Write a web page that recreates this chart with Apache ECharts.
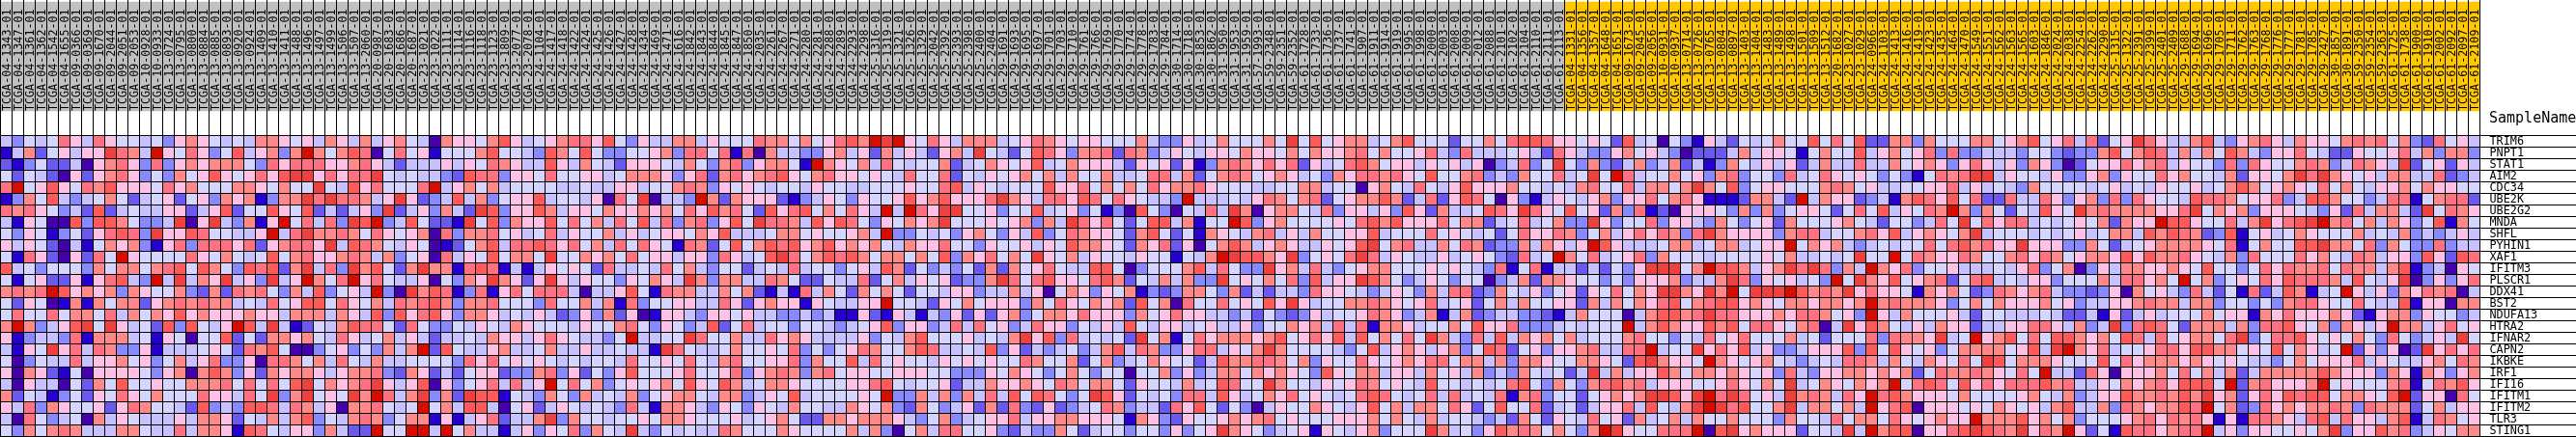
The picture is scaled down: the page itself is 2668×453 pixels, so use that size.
<!DOCTYPE html>
<html><head><meta charset="utf-8">
<style>html,body{margin:0;padding:0;background:#fff}#c{width:2668px;height:453px}</style>
<script src="https://cdn.jsdelivr.net/npm/echarts@6/dist/echarts.min.js"></script>
</head><body><div id="c"></div>
<script>
// level names 10 and 11 are written as a and b so that the tables stay aligned
const a = 10, b = 11;
const palette = ["#4500AD","#2700D1","#6B58EF","#8888FF","#C7C1FF","#D5D5FF","#FFC0E5","#FF8989","#FF7080","#FF5A5A","#EF4040","#D60C00"];
const genes = ["TRIM6","PNPT1","STAT1","AIM2","CDC34","UBE2K","UBE2G2","MNDA","SHFL","PYHIN1","XAF1","IFITM3","PLSCR1","DDX41","BST2","NDUFA13","HTRA2","IFNAR2","CAPN2","IKBKE","IRF1","IFI16","IFITM1","IFITM2","TLR3","STING1"];
const sampleIds = ["04-1343","04-1347","04-1361","04-1362","04-1542","04-1655","09-0366","09-0369","09-1670","09-2044","09-2051","09-2053","10-0928","10-0933","13-0724","13-0795","13-0800","13-0884","13-0885","13-0893","13-0920","13-0924","13-1409","13-1410","13-1411","13-1488","13-1496",
"13-1497","13-1499","13-1506","13-1507","13-2060","20-0987","20-1683","20-1686","20-1687","23-1021","23-1022","23-1111","23-1114","23-1116","23-1118","23-1123","23-1809","23-2077","23-2078","24-1104","24-1417","24-1418","24-1422","24-1424","24-1425","24-1426","24-1427",
"24-1428","24-1434","24-1469","24-1471","24-1616","24-1842","24-1843","24-1844","24-1845","24-1847","24-1850","24-2035","24-2261","24-2267","24-2271","24-2280","24-2281","24-2288","24-2289","24-2293","24-2298","25-1316","25-1319","25-1321","25-1326","25-1329","25-2042",
"25-2392","25-2393","25-2398","25-2400","25-2404","29-1691","29-1693","29-1695","29-1697","29-1701","29-1703","29-1710","29-1761","29-1766","29-1769","29-1770","29-1774","29-1778","29-1783","29-1784","30-1714","30-1718","30-1853","30-1862","31-1950","31-1953","31-1959",
"57-1993","59-2348","59-2351","59-2352","61-1728","61-1733","61-1736","61-1737","61-1741","61-1907","61-1911","61-1914","61-1919","61-1995","61-1998","61-2000","61-2003","61-2008","61-2009","61-2012","61-2088","61-2101","61-2102","61-2104","61-2110","61-2111","61-2113",
"04-1331","04-1356","04-1357","04-1648","04-1651","09-1673","09-2045","09-2056","10-0931","10-0937","13-0714","13-0726","13-0765","13-0804","13-0897","13-1403","13-1404","13-1483","13-1489","13-1498","13-1501","13-1509","13-1512","20-1682","23-1027","23-1029","24-0966",
"24-1103","24-1413","24-1416","24-1419","24-1423","24-1435","24-1464","24-1470","24-1549","24-1551","24-1562","24-1563","24-1565","24-1603","24-1846","24-2024","24-2038","24-2254","24-2262","24-2290","25-1315","25-1322","25-2391","25-2399","25-2401","25-2409","29-1688",
"29-1694","29-1696","29-1705","29-1711","29-1762","29-1763","29-1768","29-1776","29-1777","29-1781","29-1785","29-2427","30-1857","30-1891","59-2350","59-2354","59-2363","61-1725","61-1738","61-1900","61-1910","61-2002","61-2092","61-2097","61-2109"];
const greySampleCount = 135;
const block0 = [
[4,3,5,4,5,8,6,4,8,6,5,5,4,5,3,6,7,6,5,4,5,4,7,7,6,5,6],
[1,4,7,2,5,6,4,6,6,a,8,7,4,b,6,5,8,6,3,5,9,4,6,7,3,7,b],
[2,1,3,5,2,2,4,0,6,7,8,6,3,8,3,6,7,6,7,7,7,5,3,8,6,8,8],
[5,2,5,4,2,0,6,2,6,7,8,6,3,5,3,7,5,6,9,6,5,6,8,6,9,a,a],
[8,b,5,6,9,6,5,8,7,9,6,6,6,5,8,6,7,5,5,5,7,7,6,5,7,5,5],
[1,3,7,5,9,4,3,4,5,7,5,2,4,5,6,2,5,6,3,7,6,7,1,3,7,7,a],
[8,7,8,6,5,3,4,2,9,2,4,5,4,4,6,6,2,4,6,9,2,5,5,9,6,5,9],
[4,1,6,5,0,0,9,3,9,9,7,5,3,3,4,a,0,6,a,4,3,7,1,6,b,5,8],
[5,3,6,5,1,3,5,2,6,8,9,8,3,a,6,6,9,8,5,5,4,4,6,b,4,8,a],
[6,4,6,5,2,0,4,1,5,7,6,7,3,1,6,8,3,8,8,8,6,8,2,6,7,8,8],
[5,1,8,6,2,0,6,2,8,5,b,6,5,5,5,5,8,6,5,7,5,4,5,9,5,7,8],
[9,4,5,3,5,5,5,3,7,5,7,7,5,7,8,9,5,9,7,5,3,9,8,9,2,7,a],
[5,1,5,6,2,2,6,1,6,8,9,4,3,b,4,a,4,7,6,a,4,6,3,a,4,6,b],
[7,8,7,8,b,9,6,7,6,7,3,7,6,5,5,7,3,2,7,2,8,7,8,5,3,7,4],
[5,2,6,5,0,1,7,1,7,5,7,7,2,6,7,8,7,8,7,7,4,5,4,8,5,6,9],
[5,8,5,5,8,5,7,7,5,8,4,7,5,7,6,9,6,7,6,6,6,7,6,6,4,7,7],
[7,b,7,3,4,6,9,a,5,a,6,4,5,2,9,3,9,5,4,6,b,9,4,a,4,1,2],
[6,1,3,4,4,3,8,1,7,7,7,4,5,1,6,5,0,5,5,9,2,5,2,7,7,6,7],
[4,1,6,5,a,6,8,4,8,7,3,3,6,1,4,4,4,5,6,5,2,8,7,9,5,0,0],
[5,0,3,5,4,4,8,4,6,6,7,5,6,3,5,7,4,6,8,3,3,6,0,8,8,7,5],
[6,0,7,6,2,1,5,0,6,6,6,6,5,3,6,7,0,7,9,7,3,6,2,7,6,7,7],
[4,0,6,4,4,0,5,2,7,5,9,5,5,6,5,5,7,7,7,8,5,8,5,8,5,9,a],
[7,2,5,4,1,3,5,2,6,5,8,6,5,7,5,5,5,8,6,6,4,8,5,a,3,7,a],
[6,4,8,3,7,6,5,5,6,2,6,8,7,5,5,4,2,9,3,4,3,9,9,8,4,8,7],
[4,0,8,5,3,4,5,0,7,4,6,5,4,4,4,6,4,7,7,6,2,5,4,7,4,7,9],
[5,3,7,5,7,8,7,4,4,4,7,7,5,4,4,8,4,7,7,6,1,9,8,5,4,6,6]];
const block1 = [
[4,7,6,4,7,4,6,7,5,4,0,7,6,6,5,7,9,6,4,5,6,7,8,8,6,9,5],
[7,5,7,9,8,0,5,8,5,6,1,5,5,5,7,9,5,5,4,3,9,7,5,9,5,3,3],
[8,6,6,7,8,6,4,2,4,4,4,6,4,6,5,8,7,6,4,4,9,6,4,7,5,4,2],
[6,8,6,8,8,a,5,4,5,4,4,3,2,9,8,8,3,6,6,5,8,5,5,6,6,4,5],
[a,5,4,9,6,8,5,5,5,8,b,4,6,7,5,7,4,5,5,5,5,4,4,5,4,4,6],
[8,a,8,8,7,4,6,a,6,2,3,4,9,4,7,3,5,6,6,9,4,5,5,4,6,0,8],
[2,4,2,4,6,3,a,2,4,6,3,7,4,2,a,9,3,6,6,9,7,4,6,6,5,7,6],
[4,8,3,a,9,b,3,4,9,5,2,2,1,a,5,9,3,7,6,6,9,5,8,5,7,4,8],
[7,7,8,7,5,8,6,5,6,7,0,8,3,7,7,8,5,6,4,5,8,4,6,5,5,7,4],
[6,a,4,9,8,7,5,4,6,5,0,1,2,5,7,9,4,8,8,9,8,6,8,5,7,4,8],
[6,6,7,8,7,4,7,3,5,6,0,8,4,6,5,9,5,7,7,5,a,5,5,7,6,7,5],
[4,8,3,a,7,9,5,2,7,a,7,7,1,8,9,8,1,4,1,4,6,5,6,5,2,8,4],
[7,5,8,b,6,8,5,4,4,6,0,5,3,7,6,a,7,6,2,6,a,6,4,6,5,5,3],
[9,3,5,6,4,b,3,0,a,7,9,8,1,3,8,1,6,8,5,8,8,8,4,0,4,4,6],
[9,5,8,6,5,7,4,8,7,8,9,7,3,7,7,8,5,5,5,3,8,5,5,7,4,7,1],
[7,4,7,6,4,9,3,9,6,8,9,6,3,7,7,6,4,5,4,6,4,2,3,6,3,7,2],
[5,4,7,9,8,8,5,2,8,5,3,3,5,4,6,5,4,7,6,5,5,5,4,6,5,5,7],
[5,4,8,6,4,5,7,4,6,4,2,4,4,5,4,7,6,6,4,6,8,6,5,4,4,3,5],
[3,5,6,3,5,3,7,4,7,b,2,9,5,4,4,6,7,4,4,5,7,4,4,6,4,4,5],
[7,4,8,5,4,7,4,4,5,5,5,5,3,8,6,8,5,6,5,6,5,4,5,4,5,5,4],
[6,4,6,7,7,8,3,2,7,6,2,4,2,5,6,6,2,3,3,7,8,3,6,2,5,3,6],
[5,7,6,7,8,a,6,4,6,9,0,6,3,5,6,8,4,8,4,6,b,5,8,5,7,3,5],
[5,6,5,a,7,b,8,4,7,a,3,7,2,a,9,9,1,5,4,3,7,5,3,7,4,5,4],
[4,6,0,7,7,8,5,4,5,b,5,7,4,9,9,4,0,5,6,2,4,6,5,4,5,4,3],
[3,5,4,7,8,7,3,5,7,7,1,6,1,4,6,8,2,4,4,7,a,3,7,5,5,4,5],
[3,7,4,2,2,b,5,5,b,b,4,b,5,7,4,4,1,4,6,3,6,5,8,3,7,5,4]];
const block2 = [
[3,6,4,4,7,7,4,6,5,5,5,8,7,7,5,7,5,6,8,9,7,b,a,b,6,5,8],
[5,5,6,7,3,8,8,5,8,1,8,0,7,4,4,3,3,6,7,4,6,2,7,4,6,4,2],
[6,6,6,5,4,7,5,3,7,8,3,6,7,7,5,1,b,7,6,5,7,4,8,5,4,5,5],
[7,7,7,6,3,6,8,2,7,8,6,7,8,9,6,5,7,8,6,6,5,6,5,4,8,5,5],
[6,4,5,5,7,8,7,3,6,5,6,5,4,5,5,4,6,5,5,4,4,5,5,5,6,5,5],
[5,a,0,4,4,3,b,7,2,7,6,6,6,2,1,3,4,6,5,3,6,5,5,6,9,6,7],
[6,7,6,7,5,8,6,9,7,8,5,2,9,6,8,9,5,7,5,8,6,4,b,4,b,8,6],
[5,9,4,8,3,7,8,3,6,9,5,a,8,8,7,4,9,6,9,8,5,3,6,5,7,6,7],
[6,4,5,6,6,5,7,6,9,4,4,4,5,7,7,5,6,5,5,6,7,4,b,3,3,5,4],
[5,8,6,5,1,8,7,2,5,9,5,7,9,8,9,6,7,9,6,7,6,7,5,4,7,6,6],
[8,5,6,6,4,6,6,3,8,6,4,5,9,a,8,5,7,9,8,9,7,5,7,7,5,7,5],
[4,5,4,8,5,7,4,3,5,5,2,4,5,4,8,4,5,5,3,5,6,4,9,7,2,5,3],
[6,5,7,6,4,a,7,3,7,7,4,4,8,7,5,2,2,5,4,4,8,2,5,7,4,6,5],
[9,5,1,8,7,7,4,4,7,5,7,2,1,4,1,8,4,7,5,2,7,5,7,5,2,5,5],
[8,3,5,5,6,6,4,4,8,6,2,6,7,6,6,1,6,5,4,4,6,6,b,5,5,4,2],
[6,0,1,6,6,4,3,6,6,5,6,4,4,3,3,4,3,4,1,1,6,2,1,6,4,1,4],
[8,5,3,6,5,3,4,9,2,5,8,4,5,5,3,5,5,4,3,4,5,6,9,3,6,6,3],
[b,4,4,5,5,a,8,5,5,7,4,4,8,6,7,6,4,4,4,4,6,3,5,4,7,9,5],
[4,4,1,a,8,5,4,4,5,7,5,5,6,5,8,3,5,3,5,6,8,7,5,5,7,9,8],
[8,5,5,6,5,8,5,4,7,8,5,5,6,6,8,3,7,5,5,9,4,8,5,6,5,5,4],
[9,5,5,5,6,8,5,5,6,8,3,6,7,8,7,3,7,8,5,6,6,5,5,6,6,6,5],
[6,5,6,7,5,9,6,5,9,7,4,5,7,7,6,5,5,5,5,6,6,8,9,5,4,5,5],
[7,3,5,6,7,7,5,4,7,7,3,4,6,5,9,4,5,5,5,5,6,5,b,3,3,7,4],
[8,4,1,7,7,6,4,3,6,5,3,6,5,4,7,5,5,4,4,7,6,5,7,3,2,7,5],
[5,6,5,7,7,6,5,5,5,6,4,5,6,7,5,2,2,7,7,6,7,7,7,6,4,3,5],
[a,4,3,5,4,5,4,4,8,7,5,5,5,7,6,5,5,5,5,7,4,7,3,0,5,7,4]];
const block3 = [
[6,4,7,7,7,4,5,6,8,7,6,5,6,6,5,5,5,7,4,3,3,6,4,5,7,5,5],
[6,7,4,a,5,4,2,5,9,8,6,3,7,7,8,2,8,7,3,4,6,5,4,6,6,5,7],
[7,2,4,5,7,6,5,6,9,4,5,7,6,6,6,4,2,6,5,6,2,6,1,3,7,8,7],
[8,2,5,4,6,5,6,7,5,7,4,7,5,5,7,4,4,5,8,8,4,7,2,5,7,8,7],
[8,9,4,6,5,4,5,5,5,9,6,6,8,5,7,5,7,5,8,6,7,7,8,6,5,5,5],
[9,6,6,6,8,a,7,6,4,8,8,6,9,8,5,8,6,5,4,4,3,b,4,4,4,5,4],
[a,a,5,5,6,3,5,5,9,4,5,6,3,5,1,3,0,9,5,3,0,5,4,8,4,a,7],
[a,5,5,5,6,5,6,7,3,7,4,a,8,6,8,5,2,5,9,9,4,7,1,5,5,b,9],
[5,3,6,7,5,3,6,4,9,3,5,8,7,6,6,5,2,7,9,5,2,5,1,7,6,5,4],
[8,5,5,3,6,5,5,6,4,6,5,9,7,7,6,5,2,7,6,8,2,6,0,5,7,9,7],
[9,3,7,6,8,5,7,5,a,6,5,7,4,6,5,5,4,6,5,5,1,5,4,7,b,a,9],
[4,3,5,2,7,2,7,5,6,8,5,4,4,9,9,5,0,3,5,5,5,7,9,4,8,5,3],
[6,2,3,3,7,a,8,5,8,9,6,6,5,8,9,7,2,5,4,7,4,7,3,3,a,5,6],
[4,6,6,3,4,4,7,4,6,0,5,7,6,3,6,5,7,1,3,2,3,7,7,5,3,7,2],
[6,5,7,5,6,6,6,3,7,5,8,6,5,7,6,7,2,9,5,7,0,8,5,5,8,5,6],
[3,6,2,6,2,6,7,3,5,7,7,6,8,6,6,6,3,7,5,6,8,6,6,4,4,3,4],
[4,8,4,8,5,6,3,4,8,6,6,3,5,4,6,4,9,5,4,6,6,4,5,6,4,4,6],
[5,5,6,4,5,4,7,a,6,9,3,8,4,5,4,5,2,a,5,7,1,5,8,6,7,7,7],
[4,4,5,4,9,3,6,2,4,3,4,5,3,4,7,9,4,8,7,3,3,6,8,8,4,6,5],
[6,5,6,5,6,5,5,8,7,5,5,7,2,5,7,3,4,5,7,6,5,5,2,4,9,7,7],
[5,3,3,3,6,5,7,6,5,3,5,7,5,3,5,5,0,5,5,7,3,6,3,4,7,7,5],
[6,2,4,4,7,6,6,7,6,5,8,7,5,7,7,5,2,6,5,5,4,7,4,5,9,8,5],
[7,3,7,4,8,4,9,5,9,8,5,3,5,a,9,6,2,5,4,5,3,8,8,4,9,6,4],
[3,4,6,2,7,2,8,3,2,6,2,3,4,5,8,7,3,4,4,2,8,6,9,5,2,5,3],
[7,3,4,5,6,6,8,4,6,6,7,7,6,6,6,5,1,7,6,3,2,6,5,5,6,7,6],
[8,8,5,5,6,3,2,4,3,3,7,5,2,4,5,5,3,5,5,3,6,3,5,6,a,7,6]];
const block4 = [
[5,7,5,a,5,9,5,6,7,7,4,5,7,9,5,5,5,2,5,5,7,5,8,9,9,8,6],
[6,6,5,7,5,7,6,6,7,8,5,7,5,5,6,8,4,3,8,4,4,4,5,6,4,2,8],
[6,8,6,8,2,6,4,5,8,9,7,5,6,6,4,6,5,6,4,6,0,3,4,8,3,5,a],
[5,6,7,6,4,5,3,7,6,8,8,7,8,6,5,9,5,5,7,8,3,4,3,7,5,5,8],
[4,4,5,5,7,7,4,5,5,0,6,7,5,4,8,5,4,6,9,6,6,6,7,5,5,4,5],
[6,8,7,5,7,8,2,5,6,7,7,9,7,2,4,8,2,6,9,8,5,0,6,3,1,4,6],
[0,6,7,7,5,4,8,3,6,6,4,6,3,9,6,2,7,4,4,5,9,8,6,a,8,6,5],
[3,6,7,5,5,5,5,6,5,8,9,7,9,6,6,6,8,5,7,7,2,4,5,8,4,5,7],
[7,8,4,6,4,7,5,5,6,6,9,4,5,5,5,8,5,6,5,4,5,2,5,8,6,6,8],
[4,6,7,6,4,4,6,5,6,9,a,5,7,8,4,4,7,5,8,7,2,3,3,7,4,7,6],
[9,7,6,a,3,5,6,5,8,a,8,4,6,5,4,4,6,4,5,6,5,3,2,8,4,5,b],
[3,a,6,7,4,8,4,3,5,6,7,7,5,5,5,6,5,6,5,4,3,8,1,5,8,1,4],
[5,7,5,8,3,9,4,6,6,a,9,7,5,3,4,6,5,3,5,5,0,3,4,7,2,7,7],
[4,2,4,4,3,8,6,6,5,4,3,4,6,5,3,7,4,8,8,2,3,7,5,4,6,3,5],
[5,9,6,a,6,4,5,5,7,7,8,7,6,5,6,8,4,5,6,2,5,7,4,7,5,5,6],
[2,5,3,2,3,6,4,5,5,6,8,7,6,3,4,7,1,4,7,2,3,4,4,3,3,2,1],
[3,5,5,7,6,7,4,8,4,8,1,7,7,6,4,5,5,7,5,9,6,6,8,3,3,3,4],
[6,7,9,5,6,8,6,9,4,9,5,7,5,8,5,a,7,4,3,8,4,9,4,7,6,7,5],
[7,a,7,5,5,5,5,4,3,5,9,4,6,7,6,4,6,7,3,5,9,8,2,5,6,3,6],
[8,8,7,5,7,3,6,5,5,8,6,5,6,7,6,8,8,5,7,7,4,7,3,7,7,6,5],
[7,6,7,6,5,3,9,6,5,7,7,4,6,6,4,7,5,6,4,7,3,4,3,7,5,4,5],
[5,a,7,5,5,4,6,5,6,8,7,5,6,5,4,9,5,5,4,5,4,5,8,9,5,3,7],
[5,7,6,8,5,6,5,4,5,8,9,8,5,4,5,8,4,8,4,5,4,8,1,7,8,3,5],
[0,4,6,5,5,7,6,5,4,6,9,5,7,4,7,7,5,8,6,2,5,9,5,5,8,2,4],
[7,8,5,6,5,5,5,6,6,6,7,5,7,5,4,7,4,5,5,4,3,4,2,7,5,2,6],
[5,3,4,5,6,1,6,5,4,6,7,3,5,5,5,a,7,4,5,3,6,9,7,8,7,5,7]];
const block5 = [
[6,5,6,5,2,9,4,5,0,5,3,1,6,4,2,5,4,5,7,5,5,9,5,8,5,9,2],
[6,4,3,3,6,7,5,6,4,3,0,2,2,2,4,7,4,6,6,5,1,5,7,5,5,9,4],
[5,3,7,3,2,4,7,3,4,7,2,4,1,3,7,5,4,6,4,6,2,4,7,4,4,8,4],
[4,5,a,5,b,8,4,5,5,7,5,6,3,7,8,3,5,5,3,8,4,5,8,6,5,6,5],
[4,7,8,5,5,8,4,7,7,5,7,a,7,5,9,3,5,6,6,5,5,5,7,8,7,5,6],
[5,4,6,7,3,6,6,8,5,7,8,6,1,1,1,2,7,7,4,2,b,4,7,6,6,2,3],
[9,5,6,2,7,3,8,1,2,0,6,6,6,5,3,7,3,7,3,5,6,6,5,2,5,8,5],
[3,3,a,6,3,5,5,8,3,6,6,4,3,7,5,3,5,6,2,7,5,5,5,6,7,5,4],
[7,3,5,7,4,6,8,6,8,7,3,8,a,7,6,6,6,6,3,7,8,8,4,5,5,7,8],
[4,6,b,9,6,4,4,4,5,7,7,4,5,7,7,4,5,6,6,b,5,7,6,7,4,3,4],
[7,5,8,4,5,6,8,3,7,5,5,5,4,5,5,5,5,6,5,7,4,4,5,4,5,a,5],
[4,2,4,2,5,3,6,a,a,a,5,7,b,9,9,7,4,6,7,a,8,a,8,3,7,4,b],
[6,5,5,3,5,3,6,6,6,7,3,4,4,7,a,8,3,6,5,6,4,5,3,b,5,a,7],
[6,2,6,5,8,5,7,6,a,a,7,6,a,7,b,5,a,a,a,b,9,7,8,7,a,6,8],
[6,2,7,4,7,5,7,6,8,9,5,7,8,9,9,6,7,6,5,7,7,6,7,7,6,7,b],
[4,7,5,5,5,0,4,7,9,9,7,8,a,8,8,6,6,6,7,6,8,8,7,5,6,3,b],
[5,4,5,5,5,b,4,7,9,7,6,6,9,7,9,5,8,8,6,5,7,8,0,4,a,6,9],
[7,4,5,5,5,7,8,5,5,3,5,4,8,5,6,8,5,5,5,7,4,5,2,5,5,5,8],
[6,7,8,4,4,8,8,b,4,5,5,a,6,8,6,9,4,6,3,3,4,6,6,6,9,3,9],
[5,7,7,6,5,2,9,a,7,6,6,5,b,7,6,5,6,7,5,4,3,4,5,4,8,8,7],
[2,4,a,4,7,4,6,6,9,7,5,7,7,6,7,6,5,6,3,8,4,3,6,6,7,7,6],
[5,3,7,8,9,7,8,4,6,6,6,5,5,6,8,6,5,7,5,a,4,5,7,6,5,7,6],
[5,2,5,6,7,6,7,a,a,9,6,a,b,8,a,8,5,6,4,a,7,8,7,4,8,6,b],
[5,2,4,6,6,8,4,9,5,4,7,a,b,a,8,9,5,5,7,a,4,7,7,5,7,4,b],
[5,4,8,5,6,2,7,4,5,7,4,7,5,5,7,5,5,5,3,7,5,5,4,8,5,7,7],
[5,3,7,b,a,6,5,5,8,8,8,b,0,9,a,6,7,6,6,6,2,5,5,4,a,4,b]];
const block6 = [
[2,7,7,3,7,5,5,5,7,7,5,6,7,9,5,6,8,4,8,2,5,6,a,8,6,4,4],
[6,7,5,6,8,3,8,3,3,4,4,4,3,5,5,3,2,3,3,7,9,5,7,9,8,4,7],
[4,7,5,6,7,6,3,6,8,6,4,6,3,7,6,3,0,2,5,6,6,8,6,7,8,4,6],
[3,5,3,1,5,8,7,8,a,a,4,6,5,5,4,6,3,3,6,7,3,6,5,5,8,6,7],
[4,4,5,5,6,6,8,4,6,4,5,4,3,7,5,5,5,5,4,5,6,4,5,4,6,5,5],
[4,1,7,9,8,6,9,5,8,2,2,8,4,4,8,6,3,6,7,3,8,3,8,6,5,5,4],
[9,4,6,5,8,7,b,7,3,7,5,2,5,4,9,6,5,a,7,8,7,7,7,7,6,6,8],
[2,5,5,3,4,8,5,a,5,8,6,8,8,4,5,4,5,6,5,7,2,7,6,6,b,9,9],
[6,9,4,6,7,6,5,7,a,4,5,5,5,4,5,4,5,6,4,5,7,7,4,9,7,9,8],
[5,4,5,5,8,5,8,9,7,8,6,6,a,6,6,6,3,3,7,5,2,4,5,6,7,7,7],
[5,b,5,8,7,6,6,8,7,5,5,7,8,6,8,7,5,6,7,7,6,9,6,9,7,7,8],
[7,6,8,3,5,5,6,4,4,4,5,4,6,8,3,5,7,0,3,6,4,7,7,6,6,7,6],
[6,9,5,6,7,8,2,5,8,9,4,5,4,6,6,3,5,5,5,7,4,8,8,6,7,5,b],
[6,6,5,1,7,6,7,5,2,3,8,7,6,7,8,4,3,3,2,3,6,0,7,5,6,4,3],
[7,8,7,7,7,6,3,5,7,5,7,6,6,6,7,5,6,3,4,4,6,6,7,8,7,7,4],
[6,4,7,5,5,5,6,4,2,5,5,4,4,4,5,4,2,2,4,1,6,2,4,6,4,5,5],
[7,5,4,6,4,7,6,6,2,4,4,6,6,8,8,6,4,7,3,4,a,3,8,9,8,5,2],
[3,8,7,7,6,a,4,5,b,6,7,9,5,8,5,9,9,7,6,7,5,9,8,4,8,5,6],
[5,9,6,5,6,3,5,7,7,7,7,5,6,9,4,a,b,7,6,8,4,5,5,6,8,8,6],
[4,7,5,4,7,6,5,8,5,a,9,5,7,7,7,6,5,5,5,9,5,8,6,7,7,7,6],
[7,6,7,2,5,8,7,7,8,7,6,5,8,5,b,4,4,2,8,6,0,6,6,6,7,5,8],
[7,b,5,8,9,8,5,9,6,8,6,8,8,8,9,7,8,4,4,6,5,7,6,7,8,6,9],
[8,9,7,6,6,6,5,7,5,5,5,5,6,7,5,4,7,3,4,6,6,9,7,7,8,7,9],
[6,8,9,0,6,6,6,5,6,5,7,6,5,6,4,7,9,4,4,7,3,8,7,6,7,7,9],
[5,8,6,5,6,7,6,6,b,7,7,7,9,6,7,5,7,3,5,5,5,6,7,8,6,8,7],
[7,9,9,0,6,6,8,9,a,9,8,7,a,6,8,7,b,6,2,5,1,9,8,8,6,7,8]];
const block7 = [
[7,9,4,3,6,7,8,6,4,7,6,6,5,7,8,7,8,5,7,3,2,8,5,6,4],
[4,7,5,9,7,4,3,6,6,8,5,4,2,2,6,5,5,6,8,4,7,3,7,7,3],
[5,5,3,8,3,8,6,5,5,7,8,7,3,4,8,7,6,4,a,2,5,6,2,6,4],
[5,5,4,7,2,6,6,5,7,a,8,a,7,6,5,6,4,7,7,4,4,8,2,3,4],
[6,4,5,7,9,7,5,6,7,6,5,8,5,7,5,4,6,6,7,5,7,6,6,5,5],
[9,8,8,7,5,6,6,8,3,4,9,9,7,5,5,3,4,8,8,1,5,7,8,8,2],
[a,5,7,6,7,3,6,6,6,5,4,3,6,2,8,4,7,7,4,2,a,5,8,7,6],
[6,5,5,8,4,7,a,6,8,9,a,b,7,8,5,7,4,7,6,3,5,9,1,7,5],
[7,2,3,9,1,5,6,4,5,7,6,5,5,5,7,4,5,4,7,3,4,3,4,6,4],
[7,6,5,8,1,5,7,5,5,9,9,a,7,7,5,8,3,7,5,3,3,8,3,4,4],
[6,5,4,7,3,8,5,5,5,8,6,7,5,4,8,7,4,6,6,3,9,6,2,9,8],
[5,9,5,5,3,5,8,6,8,7,7,8,5,8,7,7,4,7,9,1,3,4,0,6,5],
[5,7,3,5,6,5,8,6,9,8,8,8,7,4,9,5,4,6,a,0,3,6,3,6,8],
[8,4,2,5,1,8,2,4,9,7,1,4,5,b,6,4,6,3,7,6,8,7,8,0,4],
[7,7,3,5,5,3,5,3,7,8,8,6,5,5,8,5,4,4,9,1,6,6,0,7,7],
[5,7,5,6,6,1,7,6,8,6,6,6,7,6,2,1,6,7,7,3,6,5,5,3,4],
[7,7,7,4,7,3,8,8,9,6,5,7,3,7,6,4,6,b,7,7,4,6,8,5,6],
[7,7,5,8,a,3,5,8,8,9,6,5,6,5,7,5,3,8,5,3,4,6,4,a,5],
[9,9,7,7,5,6,5,9,5,7,6,4,5,b,2,6,3,6,0,2,a,6,8,6,8],
[7,6,5,6,5,4,4,3,5,7,5,6,6,6,8,4,6,5,4,4,6,7,5,8,7],
[5,7,4,7,2,4,7,7,7,7,7,9,7,6,6,6,3,7,6,1,7,6,3,6,7],
[9,9,5,b,2,7,8,6,6,6,7,b,5,6,5,5,5,7,8,1,5,8,7,9,6],
[7,a,6,7,2,6,8,6,9,8,9,9,5,7,7,6,5,9,b,2,6,6,0,8,5],
[8,b,5,7,2,3,8,6,7,6,7,7,8,7,3,8,7,7,7,2,5,7,4,6,6],
[8,6,1,6,1,8,8,7,6,4,8,9,4,8,6,6,4,7,9,1,4,8,7,5,6],
[8,b,4,6,3,6,6,5,5,6,5,7,a,3,6,6,9,7,8,3,4,6,5,7,7]];
const blocks = [block0,block1,block2,block3,block4,block5,block6,block7];
const samples = sampleIds.map(s => "TCGA-" + s + "-01");

const heatData = [];
blocks.forEach((blk, bi) => blk.forEach((row, r) => row.forEach((v, i) => heatData.push([bi*27+i, r, v]))));
const headerData = samples.map((s, i) => [i, 0, i < greySampleCount ? 0 : 1]);
const mono = "'DejaVu Sans Mono'";
const L = 0.5, W = 2568;
const hidden = {axisLine:{show:false}, axisTick:{show:false}, axisLabel:{show:false}, splitLine:{show:false}};
const chart = echarts.init(document.getElementById('c'), null, {renderer:'canvas'});
chart.setOption({
  animation:false, backgroundColor:'#fff',
  title:{text:'SampleName', left:2578, top:115.5, padding:0, textStyle:{fontFamily:mono, fontSize:15, fontWeight:'normal', color:'#000'}},
  visualMap:[
    {type:'piecewise', show:false, seriesIndex:0, dimension:2, pieces:palette.map((c,i)=>({value:i,color:c}))},
    {type:'piecewise', show:false, seriesIndex:1, dimension:2, pieces:[{value:0,color:'#C0C0C0'},{value:1,color:'#FFC800'}]}
  ],
  grid:[
    {left:L, width:W, top:140.5, height:312},
    {left:L, width:W, top:2, height:113},
    {left:L, width:W, top:0, height:140},
    {left:L+1, width:W, top:2, height:113},
    {left:0, width:2668, top:452.5, height:0.5}
  ],
  xAxis:[
    {type:'category', gridIndex:0, data:samples, position:'top', z:10, axisLine:{show:false}, axisTick:{show:false}, axisLabel:{show:false},
     splitLine:{show:true, interval:0, lineStyle:{color:'#000',width:1}}},
    {type:'category', gridIndex:1, data:samples, ...hidden},
    {type:'category', gridIndex:2, data:samples, z:10, axisLine:{show:false}, axisTick:{show:false}, axisLabel:{show:false},
     splitLine:{show:true, interval:0, lineStyle:{color:'#000',width:1}}},
    {type:'category', gridIndex:3, data:samples, position:'bottom', z:9, axisLine:{show:false}, axisTick:{show:false}, splitLine:{show:false},
     axisLabel:{show:true, inside:true, rotate:90, margin:0, interval:0, color:'#000', fontFamily:mono, fontSize:11.7}},
    {type:'category', gridIndex:4, data:['edge'], position:'top', z:10, axisLine:{show:true, lineStyle:{color:'#000',width:1}}, axisTick:{show:false}, axisLabel:{show:false}, splitLine:{show:false}}
  ],
  yAxis:[
    {type:'category', gridIndex:0, data:genes, inverse:true, position:'right', z:10, axisLine:{show:false},
     axisTick:{show:true, length:100, interval:0, lineStyle:{color:'#000',width:1}},
     axisLabel:{show:true, margin:10, interval:0, color:'#000', fontFamily:mono, fontSize:11.8, padding:[6,0,0,0]},
     splitLine:{show:true, interval:0, lineStyle:{color:'#000',width:1}}},
    {type:'category', gridIndex:1, data:['group'], ...hidden},
    {type:'category', gridIndex:2, data:['lines'], ...hidden},
    {type:'category', gridIndex:3, data:['labels'], ...hidden},
    {type:'category', gridIndex:4, data:['edge'], ...hidden}
  ],
  series:[
    {type:'heatmap', xAxisIndex:0, yAxisIndex:0, data:heatData, progressive:0, itemStyle:{borderWidth:0}},
    {type:'heatmap', xAxisIndex:1, yAxisIndex:1, data:headerData, progressive:0, itemStyle:{borderWidth:0}}
  ]
});
</script></body></html>
